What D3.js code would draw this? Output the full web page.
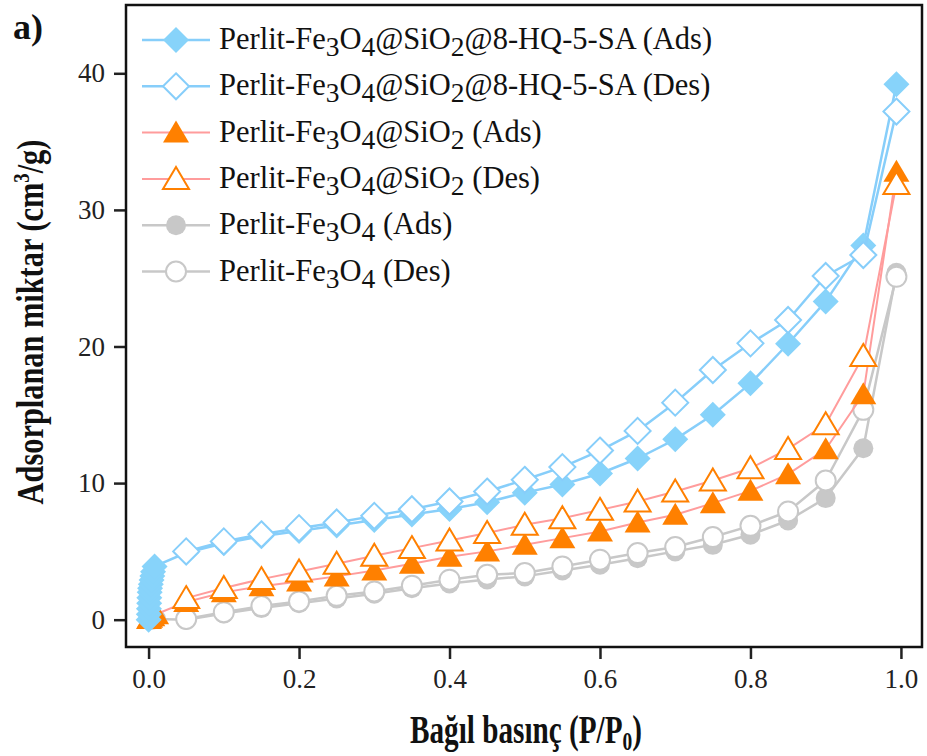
<!DOCTYPE html>
<html><head><meta charset="utf-8">
<script src="https://cdn.jsdelivr.net/npm/d3@7"></script>
<style>body{margin:0;background:#fff} svg{display:block}</style>
</head><body><div id="chart"></div>
<script>
// ---- data ----
const xTicks = [0, 0.2, 0.4, 0.6, 0.8, 1.0];
const yTicks = [0, 10, 20, 30, 40];
const xMain = [0.05,0.1,0.15,0.2,0.25,0.3,0.35,0.4,0.45,0.5,0.55,0.6,0.65,0.7,0.75,0.8,0.85,0.9,0.95,0.994];

const hqAdsX = [0.0001,0.0003,0.0005,0.0008,0.001,0.0015,0.002,0.003,0.004,0.005,0.006,0.008].concat(xMain);
const hqAdsY = [0.0,0.4,0.8,1.2,1.6,2.0,2.3,2.6,2.9,3.2,3.5,3.9,
  4.9,5.6,6.1,6.5,6.9,7.3,7.7,8.1,8.6,9.3,9.9,10.7,11.8,13.2,15.0,17.3,20.2,23.3,27.4,39.2];
const hqDesX = xMain;
const hqDesY = [5.0,5.73,6.25,6.7,7.12,7.6,8.09,8.65,9.38,10.24,11.17,12.38,13.82,15.89,18.28,20.23,21.94,25.16,26.7,37.2];

const siAdsX = [0.0005,0.002,0.005,0.01].concat(xMain);
const siAdsY = [0.05,0.15,0.25,0.4,
  1.3,2.0,2.45,2.8,3.17,3.6,4.1,4.6,5.0,5.48,5.97,6.46,7.12,7.68,8.53,9.43,10.65,12.48,16.5,32.8];
const siDesX = xMain;
const siDesY = [1.58,2.32,2.97,3.53,4.1,4.68,5.24,5.8,6.34,6.95,7.43,8.04,8.65,9.38,10.19,11.09,12.5,14.31,19.3,31.9];

const feAdsX = [0.001,0.005,0.01].concat(xMain);
const feAdsY = [0.0,0.0,0.05,
  0.0,0.45,0.85,1.2,1.55,1.9,2.3,2.65,2.95,3.17,3.6,4.02,4.5,5.0,5.48,6.22,7.26,8.9,12.55,25.4];
const feDesX = xMain;
const feDesY = [0.05,0.55,1.0,1.34,1.75,2.07,2.49,2.93,3.29,3.41,3.9,4.39,4.88,5.32,6.05,6.87,7.92,10.19,15.36,25.1];

const legendLabels = [
  [["Perlit-Fe",0],["3",1],["O",0],["4",1],["@SiO",0],["2",1],["@8-HQ-5-SA (Ads)",0]],
  [["Perlit-Fe",0],["3",1],["O",0],["4",1],["@SiO",0],["2",1],["@8-HQ-5-SA (Des)",0]],
  [["Perlit-Fe",0],["3",1],["O",0],["4",1],["@SiO",0],["2",1],[" (Ads)",0]],
  [["Perlit-Fe",0],["3",1],["O",0],["4",1],["@SiO",0],["2",1],[" (Des)",0]],
  [["Perlit-Fe",0],["3",1],["O",0],["4",1],[" (Ads)",0]],
  [["Perlit-Fe",0],["3",1],["O",0],["4",1],[" (Des)",0]]
];

// ---- styles ----
const BLUE = "#87CEFA", BLUEF = "#87D3FA", ORANGE = "#FF8000", PINK = "#FF9C9C", GRAY = "#C8C8C8";
const FONT = "'Liberation Serif','Times New Roman',serif";
const shapes = {
  diamond: "M0,-13L13,0L0,13L-13,0Z",
  triangle: "M0,-12L13,10L-13,10Z",
  circle: d3.symbol().type(d3.symbolCircle).size(Math.PI*10*10)()
};
const series = [
  {x: feAdsX, y: feAdsY, line: GRAY, lw: 2.5, shape: "circle", fill: GRAY, stroke: "none", leg: 4},
  {x: feDesX, y: feDesY, line: GRAY, lw: 2.5, shape: "circle", fill: "#fff", stroke: GRAY, leg: 5},
  {x: siAdsX, y: siAdsY, line: PINK, lw: 2, shape: "triangle", fill: ORANGE, stroke: "none", leg: 2},
  {x: siDesX, y: siDesY, line: PINK, lw: 2, shape: "triangle", fill: "#fff", stroke: ORANGE, leg: 3},
  {x: hqAdsX, y: hqAdsY, line: BLUE, lw: 2.5, shape: "diamond", fill: BLUEF, stroke: "none", leg: 0},
  {x: hqDesX, y: hqDesY, line: BLUE, lw: 2.5, shape: "diamond", fill: "#fff", stroke: BLUE, leg: 1}
];

const W = 927, H = 756;
const L = 126, R = 922, T = 5, B = 647;
const svg = d3.select("#chart").append("svg").attr("width", W).attr("height", H)
  .style("font-family", FONT);

const x = d3.scaleLinear().domain([-0.03, 1.028]).range([L, R]);
const y = d3.scaleLinear().domain([-2, 45]).range([B, T]);

// plot
const plot = svg.append("g");
series.forEach(s => {
  const pts = s.x.map((v, i) => [v, s.y[i]]);
  plot.append("path").datum(pts)
    .attr("fill", "none").attr("stroke", s.line).attr("stroke-width", s.lw)
    .attr("stroke-linejoin", "round")
    .attr("d", d3.line().x(d => x(d[0])).y(d => y(d[1])));
  plot.selectAll(null).data(pts).enter().append("path")
    .attr("d", shapes[s.shape])
    .attr("transform", d => `translate(${x(d[0])},${y(d[1])})`)
    .attr("fill", s.fill).attr("stroke", s.stroke).attr("stroke-width", 2);
});

// axes
const xAxis = svg.append("g").attr("transform", `translate(0,${B})`)
  .call(d3.axisBottom(x).tickValues(xTicks).tickFormat(d3.format(".1f")).tickSize(12).tickSizeOuter(0).tickPadding(10));
const yAxis = svg.append("g").attr("transform", `translate(${L},0)`)
  .call(d3.axisLeft(y).tickValues(yTicks).tickSize(12).tickSizeOuter(0).tickPadding(9));
[xAxis, yAxis].forEach(a => {
  a.select(".domain").remove();
  a.selectAll("line").attr("stroke", "#222").attr("stroke-width", 2.5);
  a.selectAll("text").attr("font-size", 27).attr("fill", "#222").attr("font-family", FONT);
});
// frame
svg.append("rect").attr("x", L).attr("y", T).attr("width", R - L).attr("height", B - T)
  .attr("fill", "none").attr("stroke", "#111").attr("stroke-width", 2.5);

// axis titles (condensed bold: scaled horizontally to the reference width)
function condensed(g, parts, target) {
  const t = g.append("text").attr("text-anchor", "middle").attr("font-size", 39)
    .attr("font-weight", "bold").attr("fill", "#111");
  parts(t);
  const w = t.node().getBBox().width;
  t.attr("transform", `scale(${target / w},1)`);
}
const xg = svg.append("g").attr("transform", `translate(${(L + R) / 2 + 2},743)`);
condensed(xg, t => {
  t.append("tspan").text("Bağıl basınç (P/P");
  t.append("tspan").attr("font-size", 26).attr("dy", 7).text("0");
  t.append("tspan").attr("dy", -7).text(")");
}, 232);

const yg = svg.append("g").attr("transform", "translate(43,322) rotate(-90)");
condensed(yg, t => {
  t.append("tspan").text("Adsorplanan miktar (cm");
  t.append("tspan").attr("font-size", 24).attr("dy", -14).text("3");
  t.append("tspan").attr("dy", 14).text("/g)");
}, 365);

svg.append("text").attr("x", 13).attr("y", 39).attr("font-size", 36).attr("font-weight", "bold")
  .attr("fill", "#111").text("a)");

// legend
const lg = svg.append("g");
const legSeries = series.slice().sort((a, b) => a.leg - b.leg);
legSeries.forEach((s, i) => {
  const cy = 40 + i * 46.3;
  lg.append("line").attr("x1", 142).attr("x2", 210).attr("y1", cy).attr("y2", cy)
    .attr("stroke", s.line).attr("stroke-width", s.lw);
  lg.append("path").attr("d", shapes[s.shape]).attr("transform", `translate(176,${cy})`)
    .attr("fill", s.fill).attr("stroke", s.stroke).attr("stroke-width", 2);
  const t = lg.append("text").attr("x", 219).attr("y", cy + 9).attr("font-size", 30.5).attr("fill", "#111");
  legendLabels[i].forEach(([txt, sub], k) => {
    const prevSub = k > 0 && legendLabels[i][k - 1][1];
    const ts = t.append("tspan").text(txt);
    if (sub) ts.attr("font-size", 27.5).attr("dy", 7);
    else if (prevSub) ts.attr("dy", -7);
  });
});
</script></body></html>
